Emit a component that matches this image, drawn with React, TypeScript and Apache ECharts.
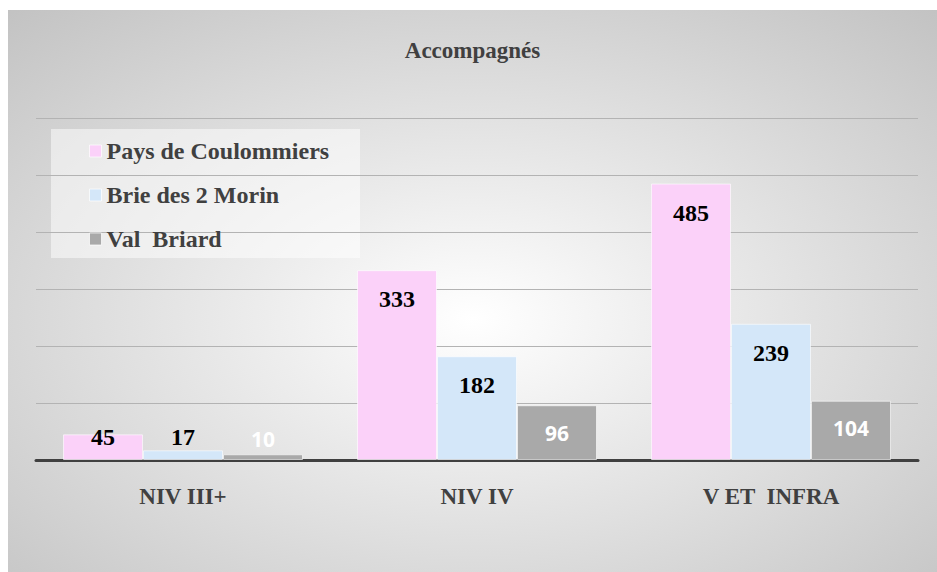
import React, { useEffect, useRef } from "react";
import * as echarts from "echarts";

const categories = ["NIV III+", "NIV IV", "V ET  INFRA"];
const seriesNames = ["Pays de Coulommiers", "Brie des 2 Morin", "Val  Briard"];
const paysValues = [45, 333, 485];
const brieValues = [17, 182, 239];
const valValues = [10, 96, 104];
const yTicks = [0, 100, 200, 300, 400, 500, 600];

const colors = ["#FBD1F9", "#D4E7F9", "#A9A9A9"];
const serif = "'Liberation Serif', 'Times New Roman', serif";
const sans = "'Open Sans', 'Liberation Sans', sans-serif";

export default function App() {
  const ref = useRef<HTMLDivElement>(null);
  useEffect(() => {
    if (!ref.current) return;
    const chart = echarts.init(ref.current, null, { renderer: "svg" });
    const values = [paysValues, brieValues, valValues];
    const mkData = (arr: number[]) =>
      arr.map((v, i) =>
        i === 0
          ? { value: v, label: { position: "insideBottom", distance: 11 } }
          : v
      );
    chart.setOption({
      animation: false,
      backgroundColor: {
        type: "radial",
        x: 0.5,
        y: 0.55,
        r: 0.75,
        colorStops: [
          { offset: 0, color: "#ffffff" },
          { offset: 1, color: "#c2c2c2" },
        ],
      },
      title: {
        text: "Accompagnés",
        left: "center",
        top: 24,
        textStyle: { fontFamily: serif, fontWeight: "bold", fontSize: 23, color: "#404040" },
      },
      graphic: [
        {
          type: "rect",
          shape: { x: 43, y: 119, width: 309, height: 129 },
          style: { fill: "rgba(255,255,255,0.5)" },
          z: 0,
        },
      ],
      legend: {
        orient: "vertical",
        left: 81,
        top: 129,
        padding: 0,
        itemWidth: 12,
        itemHeight: 12,
        itemGap: 20,
        icon: "rect",
        data: seriesNames,
        itemStyle: { borderColor: "rgba(255,255,255,0.7)", borderWidth: 1 },
        textStyle: { fontFamily: serif, fontWeight: "bold", fontSize: 24, lineHeight: 23, color: "#404040" },
      },
      grid: { left: 28, right: 19, top: 108, bottom: 112, containLabel: false },
      xAxis: {
        type: "category",
        data: categories,
        axisLine: { lineStyle: { color: "#404040", width: 3 } },
        axisTick: { show: false },
        axisLabel: {
          fontFamily: serif,
          fontWeight: "bold",
          fontSize: 23,
          color: "#404040",
          margin: 25,
        },
      },
      yAxis: {
        type: "value",
        min: yTicks[0],
        max: yTicks[yTicks.length - 1],
        interval: 100,
        axisLabel: { show: false },
        axisLine: { show: false },
        axisTick: { show: false },
        splitLine: { lineStyle: { color: "#b3b3b3", width: 1 } },
      },
      series: values.map((arr, idx) => ({
        name: seriesNames[idx],
        type: "bar",
        barWidth: 80,
        barGap: "0%",
        data: mkData(arr),
        itemStyle: {
          color: colors[idx],
          borderColor: "rgba(255,255,255,0.6)",
          borderWidth: 1,
        },
        label: {
          show: true,
          position: "insideTop",
          distance: 17,
          fontFamily: idx === 2 ? sans : serif,
          fontWeight: "bold",
          fontSize: idx === 2 ? 21 : 24,
          color: idx === 2 ? "#ffffff" : "#000000",
        },
      })),
    });
    return () => chart.dispose();
  }, []);
  return (
    <div
      ref={ref}
      style={{ position: "absolute", left: 8, top: 10, width: 929, height: 562 }}
    />
  );
}
